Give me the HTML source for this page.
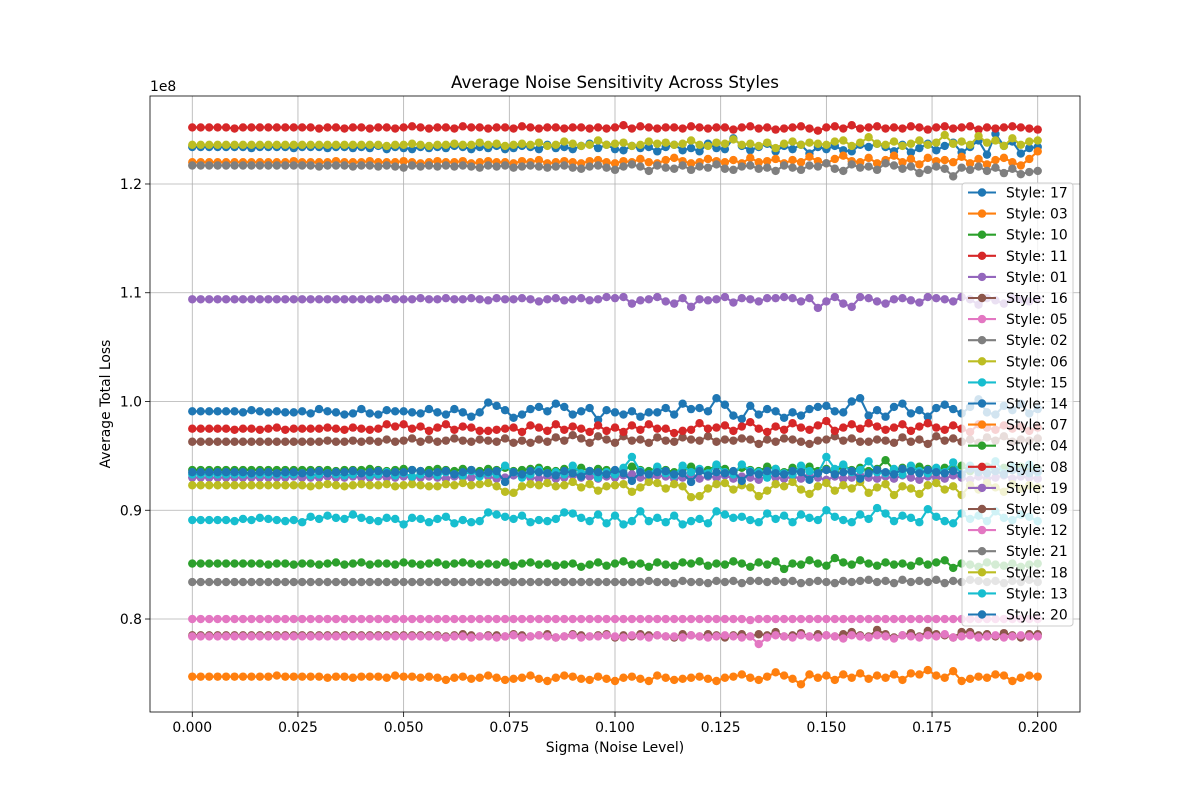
<!DOCTYPE html>
<html><head><meta charset="utf-8"><style>
body{margin:0;background:#fff;}
svg text{font-family:"DejaVu Sans","Liberation Sans",sans-serif;}
</style></head><body>
<svg id="chart" width="1200" height="800" viewBox="0 0 1200 800">
<rect width="1200" height="800" fill="#fff"/>
<g id="grid"></g><g id="series"></g><g id="axes"></g><g id="legend"></g>
</svg>
<script>
const styles=["17","03","10","11","01","16","05","02","06","15","14","07","04","08","19","09","12","21","18","13","20"];
const xTicks=[0,0.025,0.05,0.075,0.1,0.125,0.15,0.175,0.2];
const yTicks=[0.8,0.9,1.0,1.1,1.2];
// values in units of 1e6 (101 points, sigma 0..0.2 step 0.002)
const s17=[123.4,123.4,123.4,123.4,123.4,123.4,123.4,123.3,123.4,123.4,123.4,123.4,123.3,123.4,123.4,123.4,123.3,123.4,123.4,123.3,123.4,123.3,123.5,123.2,123.4,123.3,123.2,123.4,123.3,123.4,123.3,123.5,123.4,123.2,123.4,123.3,123.5,123.2,123.3,123.5,123.4,123.2,123.6,123.3,123.4,123.2,123.5,123.7,123.3,123.6,123.2,123.1,123.5,123.3,123.4,123.0,123.4,123.6,123.1,123.3,123.0,123.7,123.3,123.2,124.2,123.5,123.1,123.4,123.7,123.0,123.5,123.2,123.6,122.8,123.4,123.2,123.5,123.1,123.0,123.6,123.4,123.7,123.4,123.0,123.6,122.9,123.3,123.7,123.1,123.5,123.8,122.9,123.4,124.0,122.7,124.6,123.5,123.9,122.8,123.3,123.4];
const s03=[122.0,122.0,122.0,122.0,122.0,122.0,122.0,122.0,122.0,122.0,122.0,122.0,122.1,122.0,122.0,122.0,122.0,122.1,122.0,122.0,122.0,122.1,122.0,122.0,122.0,122.1,122.0,121.9,122.0,122.1,122.0,122.0,122.1,121.9,122.0,122.1,122.0,122.0,121.9,122.1,122.0,122.2,121.9,122.0,122.1,122.0,121.9,122.1,122.2,122.0,121.9,122.1,122.0,122.3,122.0,121.9,122.2,122.4,122.1,121.9,122.0,122.3,122.1,122.0,122.2,121.9,122.4,122.0,122.1,122.3,121.9,122.2,122.0,122.5,122.1,121.9,122.3,122.6,122.1,122.0,122.4,121.9,122.2,122.6,122.0,122.3,121.8,122.4,122.1,122.2,122.0,122.5,121.9,122.3,121.8,122.2,122.4,122.0,121.7,122.3,123.0];
const s10=[93.7,93.7,93.7,93.7,93.7,93.7,93.7,93.7,93.7,93.7,93.7,93.7,93.7,93.7,93.7,93.7,93.7,93.6,93.7,93.7,93.7,93.8,93.7,93.6,93.7,93.8,93.7,93.6,93.7,93.8,93.7,93.6,93.8,93.7,93.6,93.8,93.7,93.9,93.6,93.7,93.8,93.9,93.7,93.6,93.8,93.7,93.9,93.6,93.8,93.7,93.5,93.8,94.0,93.7,93.6,93.9,93.7,93.5,93.8,94.0,93.6,93.7,94.1,93.8,93.5,93.9,93.7,93.6,94.0,93.8,93.5,93.9,93.7,94.0,93.6,93.8,93.5,94.1,93.7,93.9,93.6,93.8,94.6,93.7,93.9,93.6,94.0,93.8,93.5,93.9,93.7,94.1,93.6,93.8,94.0,93.6,93.9,93.7,94.0,93.6,93.8];
const s11=[125.2,125.2,125.2,125.2,125.2,125.1,125.2,125.2,125.2,125.2,125.2,125.2,125.2,125.2,125.2,125.1,125.2,125.2,125.1,125.2,125.2,125.1,125.2,125.2,125.1,125.2,125.3,125.2,125.1,125.2,125.2,125.1,125.3,125.2,125.2,125.1,125.2,125.2,125.1,125.3,125.2,125.1,125.2,125.2,125.1,125.2,125.2,125.1,125.2,125.1,125.2,125.4,125.1,125.3,125.2,125.1,125.2,125.2,125.1,125.3,125.2,125.1,125.2,125.2,125.0,125.2,125.3,125.1,125.2,125.0,125.1,125.2,125.3,125.1,124.9,125.2,125.3,125.1,125.4,125.1,125.2,125.3,125.1,125.2,125.1,125.3,125.2,125.0,125.2,125.3,125.1,125.2,125.3,125.0,125.2,125.1,125.2,125.3,125.2,125.1,125.0];
const s01=[109.4,109.4,109.4,109.4,109.4,109.4,109.4,109.4,109.4,109.4,109.4,109.4,109.4,109.4,109.4,109.4,109.4,109.4,109.4,109.4,109.4,109.4,109.4,109.5,109.4,109.4,109.4,109.5,109.4,109.4,109.5,109.4,109.4,109.5,109.4,109.3,109.5,109.4,109.4,109.5,109.4,109.2,109.4,109.5,109.3,109.4,109.5,109.3,109.4,109.6,109.5,109.6,109.0,109.3,109.4,109.6,109.2,109.0,109.5,108.7,109.4,109.3,109.4,109.6,109.1,109.5,109.4,109.2,109.5,109.5,109.6,109.5,109.2,109.5,108.6,109.2,109.6,109.0,108.7,109.6,109.5,109.2,109.0,109.4,109.5,109.3,109.1,109.6,109.5,109.4,109.2,109.6,109.4,108.9,109.5,109.3,109.0,109.5,109.4,109.2,109.4];
const s16=[96.3,96.3,96.3,96.3,96.3,96.3,96.3,96.3,96.3,96.3,96.3,96.3,96.3,96.3,96.3,96.3,96.4,96.3,96.3,96.4,96.3,96.4,96.3,96.5,96.3,96.4,96.6,96.3,96.5,96.3,96.4,96.6,96.4,96.3,96.5,96.4,96.3,96.6,96.2,96.4,96.2,96.5,96.3,96.7,96.4,96.9,96.6,96.2,96.8,96.5,96.2,96.8,96.4,96.5,96.2,96.7,96.4,96.3,96.7,96.5,96.4,96.8,96.3,96.5,96.4,96.6,96.5,96.1,96.5,96.3,96.6,96.5,96.3,96.1,96.4,96.5,96.8,96.4,96.6,96.3,96.3,96.5,96.4,96.2,96.7,96.3,96.5,96.1,96.8,96.4,96.6,96.3,96.5,96.2,96.7,96.4,96.8,96.3,96.5,96.4,96.6];
const s05=[80.0,80.0,80.0,80.0,80.0,80.0,80.0,80.0,80.0,80.0,80.0,80.0,80.0,80.0,80.0,80.0,80.0,80.0,80.0,80.0,80.0,80.0,80.0,80.0,80.0,80.0,80.0,80.0,80.0,80.0,80.0,80.0,80.0,80.0,80.0,80.0,80.0,80.0,80.0,80.0,80.0,80.0,80.0,80.0,80.0,80.0,80.0,80.0,80.0,80.0,80.0,80.0,80.0,80.0,80.0,80.0,80.0,80.0,80.0,80.0,80.0,80.0,80.0,80.0,80.0,80.0,79.9,80.0,80.0,80.0,80.0,80.0,80.0,80.0,80.0,80.0,80.0,80.0,80.0,80.0,80.0,80.0,80.0,80.0,80.0,80.0,80.0,80.0,80.0,80.0,80.0,80.0,80.0,80.0,80.0,80.0,80.0,80.0,80.0,80.0,80.0];
const s02=[121.7,121.7,121.7,121.7,121.7,121.7,121.7,121.7,121.7,121.7,121.7,121.7,121.7,121.7,121.7,121.6,121.7,121.7,121.7,121.6,121.7,121.7,121.6,121.7,121.6,121.5,121.7,121.6,121.7,121.6,121.7,121.6,121.7,121.6,121.5,121.7,121.6,121.7,121.5,121.6,121.7,121.6,121.5,121.6,121.7,121.5,121.4,121.6,121.7,121.5,121.3,121.6,121.8,121.6,121.2,121.7,121.5,121.4,121.7,121.3,121.6,121.5,121.8,121.4,121.3,121.6,121.7,121.4,121.5,121.2,121.7,121.5,121.3,121.7,121.6,121.9,121.4,121.2,121.8,121.5,121.6,121.3,121.9,121.7,121.4,121.6,121.0,121.3,121.6,121.4,120.7,121.5,121.3,121.6,121.2,121.5,121.0,121.4,120.9,121.1,121.2];
const s06=[123.6,123.6,123.6,123.6,123.6,123.6,123.6,123.6,123.6,123.6,123.6,123.6,123.6,123.6,123.6,123.6,123.6,123.6,123.6,123.6,123.6,123.6,123.6,123.5,123.6,123.6,123.7,123.6,123.5,123.6,123.6,123.7,123.6,123.6,123.8,123.6,123.7,123.5,123.6,123.7,123.6,123.8,123.5,123.6,123.9,123.7,123.5,123.6,124.0,123.6,123.7,123.8,123.5,123.6,123.9,123.7,123.8,123.6,123.7,124.0,123.6,123.5,123.8,123.7,124.1,123.6,123.7,123.5,123.8,123.3,123.7,123.9,123.6,123.8,123.7,123.6,123.9,124.0,123.5,123.8,124.3,123.7,123.6,123.9,123.5,123.7,124.0,123.6,123.8,124.5,123.7,123.9,123.6,124.4,123.8,124.0,123.5,124.2,123.6,123.9,124.0];
const s15=[89.1,89.1,89.1,89.1,89.1,89.0,89.2,89.1,89.3,89.2,89.1,89.0,89.1,88.9,89.4,89.2,89.5,89.3,89.2,89.6,89.3,89.1,89.0,89.3,89.2,88.7,89.3,89.2,88.9,89.2,89.4,88.8,89.1,88.9,89.0,89.8,89.6,89.4,89.2,89.5,88.9,89.1,89.0,89.2,89.8,89.7,89.3,89.0,89.6,88.8,89.5,88.7,89.0,89.9,89.0,89.3,88.9,89.5,88.7,89.0,89.2,88.8,89.9,89.6,89.3,89.4,89.1,88.9,89.7,89.2,89.5,88.9,89.6,89.3,89.1,90.0,89.4,89.1,88.9,89.6,89.2,90.2,89.7,89.0,89.5,89.3,88.9,90.1,89.4,89.0,88.8,89.7,89.2,89.5,89.0,89.9,89.3,89.1,89.6,89.4,89.0];
const s14=[99.1,99.1,99.1,99.1,99.1,99.1,99.0,99.2,99.1,99.0,99.1,99.0,99.0,99.1,98.9,99.3,99.1,99.0,98.8,98.9,99.3,98.9,98.8,99.2,99.1,99.1,99.0,98.9,99.3,99.0,98.8,99.3,99.0,98.6,99.0,99.9,99.6,99.2,98.5,98.8,99.3,99.5,99.1,99.8,99.5,98.8,99.1,99.4,98.3,99.2,99.0,98.8,99.1,98.6,99.0,99.0,99.4,98.8,99.8,99.3,99.4,99.1,100.3,99.7,98.7,98.4,99.6,98.8,99.3,99.1,98.5,99.0,98.7,99.3,99.5,99.6,99.1,99.0,100.0,100.3,98.7,99.2,98.6,99.5,99.8,98.9,99.2,98.6,99.4,99.7,99.3,98.9,99.5,100.2,99.0,98.8,99.6,99.2,99.8,98.9,99.3];
const s07=[74.7,74.7,74.7,74.7,74.7,74.7,74.7,74.7,74.7,74.7,74.8,74.7,74.7,74.7,74.7,74.7,74.6,74.7,74.7,74.6,74.7,74.7,74.7,74.6,74.8,74.7,74.7,74.6,74.7,74.6,74.4,74.6,74.7,74.5,74.6,74.8,74.6,74.4,74.5,74.6,74.8,74.5,74.3,74.6,74.8,74.7,74.5,74.4,74.7,74.5,74.3,74.6,74.7,74.5,74.3,74.8,74.6,74.4,74.5,74.6,74.7,74.5,74.3,74.6,74.7,74.9,74.6,74.4,74.7,75.1,74.8,74.5,74.0,74.9,74.6,74.8,74.4,74.9,74.6,75.0,74.5,74.8,74.6,74.9,74.4,75.0,74.9,75.3,74.8,74.6,75.2,74.3,74.5,74.7,74.6,74.9,74.8,74.3,74.6,74.8,74.7];
const s04=[85.1,85.1,85.1,85.1,85.1,85.1,85.1,85.1,85.1,85.0,85.1,85.1,85.0,85.1,85.1,85.0,85.1,85.2,85.0,85.1,85.2,85.0,85.1,85.1,85.0,85.2,85.1,85.0,85.1,85.2,85.0,85.1,85.2,85.1,85.0,85.1,85.0,85.2,84.9,85.1,85.2,85.0,85.1,84.9,85.0,85.1,84.8,85.0,85.2,84.9,85.1,85.3,85.0,85.1,84.8,85.2,85.0,84.9,85.2,85.1,85.3,84.9,85.1,85.0,85.3,85.1,84.8,85.2,85.0,85.3,84.6,85.1,85.0,85.4,85.1,84.9,85.6,85.2,85.0,85.4,85.1,84.9,85.2,85.0,85.1,84.9,85.3,85.0,85.2,85.4,84.7,85.1,85.0,84.8,85.2,85.0,84.9,85.1,84.8,85.0,85.1];
const s08=[97.5,97.5,97.5,97.5,97.5,97.4,97.5,97.5,97.4,97.5,97.6,97.4,97.5,97.5,97.5,97.5,97.6,97.5,97.4,97.6,97.5,97.4,97.5,97.9,97.7,97.9,97.5,97.7,97.3,97.6,97.9,97.4,97.7,97.6,97.3,97.3,97.4,97.5,97.6,97.2,97.8,97.6,97.3,97.9,97.4,97.7,97.5,97.2,97.8,97.3,97.6,97.2,97.8,97.4,97.9,97.5,97.5,97.1,97.3,97.4,98.0,97.5,97.6,97.8,97.3,97.7,98.1,97.5,97.2,97.7,97.4,98.0,97.6,97.4,97.8,98.2,97.3,97.6,97.9,97.5,98.0,97.7,97.4,97.6,97.9,97.3,97.7,98.0,97.6,97.4,97.8,97.5,97.2,97.9,97.6,97.4,97.8,97.5,97.7,97.3,97.6];
const s19=[93.0,93.0,93.0,93.0,93.0,93.0,93.0,93.0,93.0,93.0,93.0,93.0,93.1,93.0,93.0,93.0,93.1,93.0,93.0,93.1,93.0,93.0,93.1,93.0,93.0,93.1,93.0,93.0,93.1,93.0,92.9,93.1,93.0,93.0,93.2,93.1,92.9,93.0,93.2,93.1,93.0,92.9,93.1,92.9,93.0,93.2,93.0,93.1,92.9,93.1,93.0,93.2,93.3,93.0,92.9,93.2,93.1,92.9,93.0,93.2,92.9,93.1,93.0,93.2,92.9,93.1,93.0,92.8,93.2,93.0,92.9,93.1,92.9,93.2,93.0,92.8,93.1,92.9,93.0,93.2,93.0,92.9,93.1,92.9,93.2,93.0,92.8,93.1,93.0,92.9,93.2,93.0,92.8,93.1,92.9,93.0,93.2,92.9,93.1,93.0,92.9];
const s09=[78.5,78.5,78.5,78.5,78.5,78.5,78.5,78.5,78.5,78.5,78.5,78.5,78.5,78.5,78.5,78.5,78.5,78.5,78.5,78.5,78.5,78.5,78.5,78.5,78.5,78.5,78.5,78.5,78.5,78.5,78.4,78.5,78.6,78.5,78.4,78.5,78.5,78.4,78.6,78.5,78.4,78.5,78.6,78.3,78.4,78.6,78.5,78.4,78.5,78.6,78.3,78.5,78.4,78.6,78.5,78.5,78.4,78.3,78.6,78.5,78.4,78.6,78.5,78.3,78.5,78.6,78.4,78.6,78.5,78.8,78.4,78.5,78.7,78.4,78.6,78.5,78.4,78.6,78.8,78.5,78.4,79.0,78.6,78.3,78.5,78.7,78.4,78.9,78.6,78.5,78.3,78.8,78.8,78.5,78.6,78.4,78.7,78.5,78.3,78.6,78.6];
const s12=[78.4,78.4,78.4,78.4,78.4,78.4,78.4,78.4,78.4,78.4,78.4,78.4,78.4,78.4,78.4,78.4,78.4,78.4,78.4,78.4,78.4,78.4,78.4,78.4,78.4,78.4,78.4,78.4,78.4,78.4,78.3,78.4,78.4,78.3,78.4,78.4,78.3,78.4,78.5,78.3,78.4,78.5,78.4,78.3,78.4,78.5,78.3,78.4,78.4,78.5,78.4,78.3,78.5,78.4,78.3,78.5,78.4,78.4,78.3,78.5,78.4,78.3,78.4,78.5,78.4,78.3,78.4,77.7,78.3,78.5,78.4,78.3,78.5,78.4,78.3,78.5,78.4,78.2,78.5,78.4,78.3,78.5,78.4,78.2,78.5,78.4,78.3,78.5,78.4,78.6,78.3,78.4,78.5,78.3,78.4,78.5,78.3,78.4,78.5,78.4,78.4];
const s21=[83.4,83.4,83.4,83.4,83.4,83.4,83.4,83.4,83.4,83.4,83.4,83.4,83.4,83.4,83.4,83.4,83.4,83.4,83.4,83.4,83.4,83.4,83.4,83.4,83.4,83.4,83.4,83.4,83.4,83.4,83.4,83.4,83.4,83.4,83.4,83.4,83.4,83.4,83.4,83.4,83.4,83.4,83.4,83.4,83.4,83.4,83.4,83.4,83.4,83.4,83.4,83.4,83.4,83.4,83.5,83.4,83.4,83.3,83.5,83.4,83.4,83.3,83.5,83.4,83.5,83.3,83.5,83.5,83.4,83.5,83.4,83.5,83.3,83.4,83.5,83.4,83.3,83.5,83.4,83.5,83.6,83.4,83.5,83.3,83.6,83.4,83.5,83.4,83.6,83.3,83.5,83.4,83.6,83.5,83.4,83.5,83.3,83.5,83.4,83.6,83.4];
const s18=[92.3,92.3,92.3,92.3,92.3,92.3,92.3,92.3,92.3,92.3,92.3,92.3,92.3,92.3,92.2,92.3,92.4,92.3,92.2,92.3,92.4,92.3,92.3,92.4,92.2,92.3,92.4,92.3,92.2,92.2,92.4,92.3,92.5,92.3,92.4,92.5,92.2,91.7,91.6,92.2,92.4,92.3,92.5,92.2,92.3,92.6,92.1,92.4,91.8,92.2,92.3,92.4,91.7,92.1,92.6,92.5,92.0,92.4,92.2,91.2,91.3,92.0,92.4,92.5,91.9,92.3,92.1,91.3,91.8,92.4,92.2,92.6,91.9,91.5,92.2,92.5,91.8,92.3,92.0,92.6,91.6,92.1,92.4,91.4,92.2,92.0,91.5,92.3,92.5,91.9,92.2,91.4,92.3,91.9,92.5,92.1,91.7,92.4,92.0,92.3,92.1];
const s13=[93.3,93.3,93.3,93.3,93.3,93.3,93.3,93.3,93.3,93.3,93.3,93.3,93.3,93.4,93.2,93.3,93.4,93.3,93.2,93.3,93.4,93.2,93.3,93.5,93.2,93.4,93.1,93.3,93.4,93.2,93.5,93.3,93.2,93.6,93.1,93.4,93.3,94.1,93.5,93.0,93.3,93.7,93.4,93.5,93.3,94.1,93.4,93.6,93.0,93.5,93.3,93.9,94.9,93.6,93.3,94.0,93.4,93.2,94.1,93.5,93.8,93.4,94.2,93.5,93.3,94.2,93.6,93.5,93.0,93.8,93.4,93.3,94.1,93.6,93.4,94.9,93.8,94.2,93.5,93.7,94.5,93.5,93.4,93.8,93.3,94.1,93.6,93.4,93.9,93.5,94.4,93.3,94.1,93.6,93.8,94.5,93.4,94.0,93.6,94.2,93.5];
const s20=[93.5,93.5,93.5,93.5,93.5,93.5,93.5,93.4,93.5,93.5,93.4,93.5,93.5,93.4,93.5,93.6,93.4,93.5,93.5,93.6,93.4,93.5,93.6,93.4,93.5,93.5,93.7,93.6,93.4,93.5,93.6,93.3,93.5,93.7,93.4,93.5,93.6,92.6,93.5,93.3,93.6,93.5,93.4,93.2,93.6,93.4,93.1,93.6,93.5,93.3,93.7,93.4,92.7,93.5,93.3,93.5,93.6,93.3,93.4,92.6,93.6,93.2,93.5,93.4,93.6,92.7,93.5,93.3,93.6,93.4,93.3,93.6,93.5,92.8,93.4,93.7,93.3,93.5,93.6,92.9,93.4,93.7,93.5,93.3,93.8,93.6,93.4,93.7,93.5,93.4,93.6,93.3,93.8,93.5,93.4,93.6,93.3,93.7,93.5,93.4,93.6];
const seriesValues=[s17,s03,s10,s11,s01,s16,s05,s02,s06,s15,s14,s07,s04,s08,s19,s09,s12,s21,s18,s13,s20];
const colors=["#1f77b4","#ff7f0e","#2ca02c","#d62728","#9467bd","#8c564b","#e377c2","#7f7f7f","#bcbd22","#17becf"];

const NS="http://www.w3.org/2000/svg";
const L=150,R=1080,T=96,B=712;
const xMin=-0.01,xMax=0.21,yMin=0.7145,yMax=1.2809;
const xs=v=>L+(v-xMin)/(xMax-xMin)*(R-L);
const ys=v=>B-(v-yMin)/(yMax-yMin)*(B-T);
function mk(tag,attrs,parent){const e=document.createElementNS(NS,tag);for(const k in attrs)e.setAttribute(k,attrs[k]);parent.appendChild(e);return e;}
const grid=document.getElementById('grid'),axes=document.getElementById('axes'),ser=document.getElementById('series'),leg=document.getElementById('legend');

xTicks.forEach(t=>{const x=xs(t);
 const g=mk('line',{x1:x,x2:x,y1:T,y2:B,stroke:'#b0b0b0','stroke-width':0.8},grid);
 
 mk('line',{x1:x,x2:x,y1:B,y2:B+5,stroke:'#000','stroke-width':0.8},axes);
 const tx=mk('text',{x:x,y:B+20,'text-anchor':'middle','font-size':13.9},axes);tx.textContent=t.toFixed(3);
 });
yTicks.forEach(t=>{const y=ys(t);
 const g=mk('line',{x1:L,x2:R,y1:y,y2:y,stroke:'#b0b0b0','stroke-width':0.8},grid);
 
 mk('line',{x1:L-5,x2:L,y1:y,y2:y,stroke:'#000','stroke-width':0.8},axes);
 const tx=mk('text',{x:L-8,y:y+5,'text-anchor':'end','font-size':13.9},axes);tx.textContent=t.toFixed(1);
 });

seriesValues.forEach((vals,si)=>{
 const c=colors[si%10];
 const g=mk('g',{},ser);
 
 const pts=vals.map((v,i)=>xs(i*0.002).toFixed(1)+','+ys(v/100).toFixed(1)).join(' ');
 mk('polyline',{points:pts,fill:'none',stroke:c,'stroke-width':2.1,'stroke-linejoin':'round'},g);
 vals.forEach((v,i)=>{const p=mk('circle',{cx:xs(i*0.002),cy:ys(v/100),r:4.2,fill:c},g);
  });
});

const frame=mk('rect',{x:L,y:T,width:R-L,height:B-T,fill:'none',stroke:'#000','stroke-width':0.8},axes);

const e8=mk('text',{x:L,y:T-5,'font-size':13.9},axes);e8.textContent='1e8';

const title=mk('text',{x:(L+R)/2,y:T-8,'text-anchor':'middle','font-size':16.7},axes);title.textContent='Average Noise Sensitivity Across Styles';

const xl=mk('text',{x:(L+R)/2,y:B+40,'text-anchor':'middle','font-size':13.9},axes);xl.textContent='Sigma (Noise Level)';

const yl=mk('text',{x:0,y:0,'text-anchor':'middle','font-size':13.9,transform:'translate(110,'+((T+B)/2)+') rotate(-90)'},axes);yl.textContent='Average Total Loss';


const lb=mk('rect',{x:962,y:183,width:111,height:443,rx:3,fill:'#fff','fill-opacity':0.8,stroke:'#cccccc','stroke-width':1},leg);

styles.forEach((s,i)=>{const y=192.5+i*21.1,c=colors[i%10];
 const g=mk('g',{},leg);
 
 mk('line',{x1:968,x2:996,y1:y,y2:y,stroke:c,'stroke-width':2.1},g);
 mk('circle',{cx:982,cy:y,r:4.2,fill:c},g);
 const t=mk('text',{x:1006,y:y+5,'font-size':13.9},g);t.textContent='Style: '+s;});
</script>
</body></html>
